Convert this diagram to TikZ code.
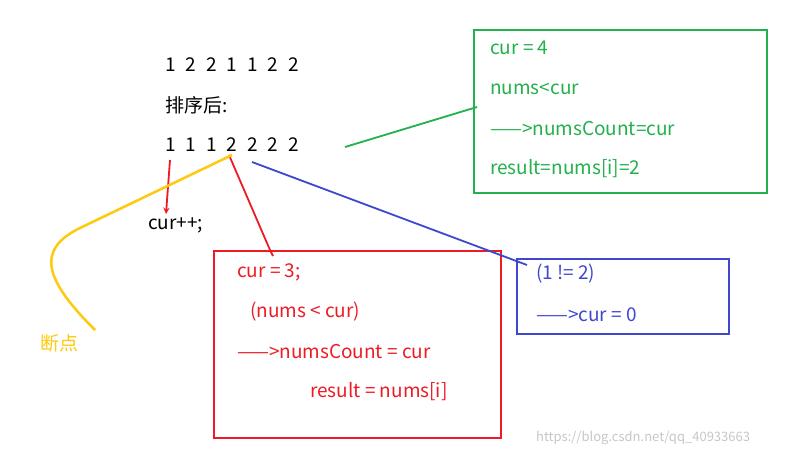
\documentclass[tikz,border=0pt]{standalone}
\usepackage{fontspec}
\setmainfont{Noto Sans CJK SC}
\definecolor{gc}{RGB}{34,177,76}
\definecolor{rc}{RGB}{237,28,36}
\definecolor{bc}{RGB}{63,72,204}
\definecolor{yc}{RGB}{255,201,14}
\begin{document}
\begin{tikzpicture}[x=1pt,y=-1pt,
  t/.style={anchor=west,inner sep=0pt,font=\fontsize{19}{22}\selectfont}]
\useasboundingbox[fill=white] (0,0) rectangle (790,456);
\node[t] (a) at (165,65) {1\hspace{10pt}2\hspace{10pt}2\hspace{10pt}1\hspace{10pt}1\hspace{10pt}2\hspace{10pt}2};
\node[t] (s) at (165,105) {排序后:};
\node[t] (b) at (165,145) {1\hspace{10pt}1\hspace{10pt}1\hspace{10pt}2\hspace{10pt}2\hspace{10pt}2\hspace{10pt}2};
\node[t] (c) at (148,225) {cur++;};
% green box
\node[draw=gc,line width=2pt,minimum width=293pt,minimum height=163pt,anchor=north west] (G) at (473,29) {};
\node[t,gc] at (490,48) {cur = 4};
\node[t,gc] at (490,89) {nums<cur};
\node[t,gc] at (490,129) {——>numsCount=cur};
\node[t,gc] at (490,169) {result=nums[i]=2};
\coordinate (g1) at (345,147); \coordinate (g2) at (477,107);
\draw[gc,line width=1.8pt] (g1) -- (g2);
% red box
\node[draw=rc,line width=2pt,minimum width=287pt,minimum height=187pt,anchor=north west] (R) at (213,250) {};
\node[t,rc] at (237,272) {cur = 3;};
\node[t,rc] at (250,312) {(nums < cur)};
\node[t,rc] at (237,352) {——>numsCount = cur};
\node[t,rc] at (310,392) {result = nums[i]};
\coordinate (r1) at (229,155); \coordinate (r2) at (270,250);
\draw[rc,line width=1.8pt] (r1) -- (r2) -- (273,256);
\coordinate (r3) at (170,160); \coordinate (r4) at (166,214);
\draw[rc,line width=1.8pt,-stealth] (r3) -- (r4);
% blue box
\node[draw=bc,line width=2pt,minimum width=212pt,minimum height=75pt,anchor=north west] (B) at (516,258) {};
\node[t,bc] at (536,274) {(1 != 2)};
\node[t,bc] at (536,315) {——>cur = 0};
\coordinate (b1) at (252,162); \coordinate (b2) at (527,265);
\draw[bc,line width=1.8pt] (b1) -- (b2);
% yellow
\coordinate (y1) at (232,155); \coordinate (y2) at (95,330);
\draw[yc,line width=2.5pt] (y1) -- (80,228) .. controls (35,250) and (45,280) .. (y2);
\node[t,yc] (d) at (40,343) {断点};
\node[anchor=west,inner sep=0pt,font=\fontsize{13}{15}\selectfont,color=black!22] (w) at (536,438) {https://blog.csdn.net/qq\_40933663};
\end{tikzpicture}
\end{document}
